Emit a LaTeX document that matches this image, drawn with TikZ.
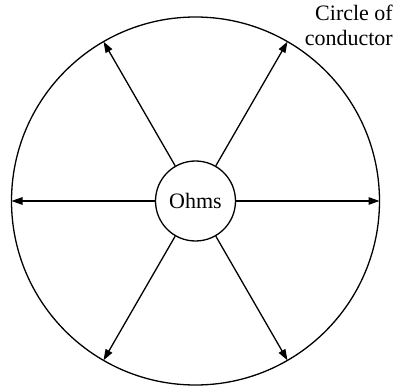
\documentclass[tikz,border=0pt]{standalone}
\usepackage{fontspec}
\setmainfont{Liberation Serif}
\usetikzlibrary{arrows.meta}
\begin{document}
\begin{tikzpicture}[x=1pt,y=-1pt,
  wire/.style={line width=1.3pt},
  spoke/.style={line width=1.3pt,-{Triangle[length=11pt,width=7.5pt]}},
  lbl/.style={font=\fontsize{22}{25}\selectfont}]
\useasboundingbox (0,0) rectangle (397,390);
\node[wire,draw,circle,minimum size=368pt,inner sep=0pt,outer sep=0pt] (big) at (195.5,201) {};
\node[wire,draw,circle,minimum size=80pt,inner sep=0pt,lbl] (ohms) at (195.5,201) {Ohms};
\foreach \a in {0,60,120,180,240,300}{
  \draw[spoke] (ohms.\a) -- (big.\a);
}
\node[lbl,anchor=north east,align=right,inner sep=0pt] (title) at (393,5) {Circle of\\conductor};
\end{tikzpicture}
\end{document}
